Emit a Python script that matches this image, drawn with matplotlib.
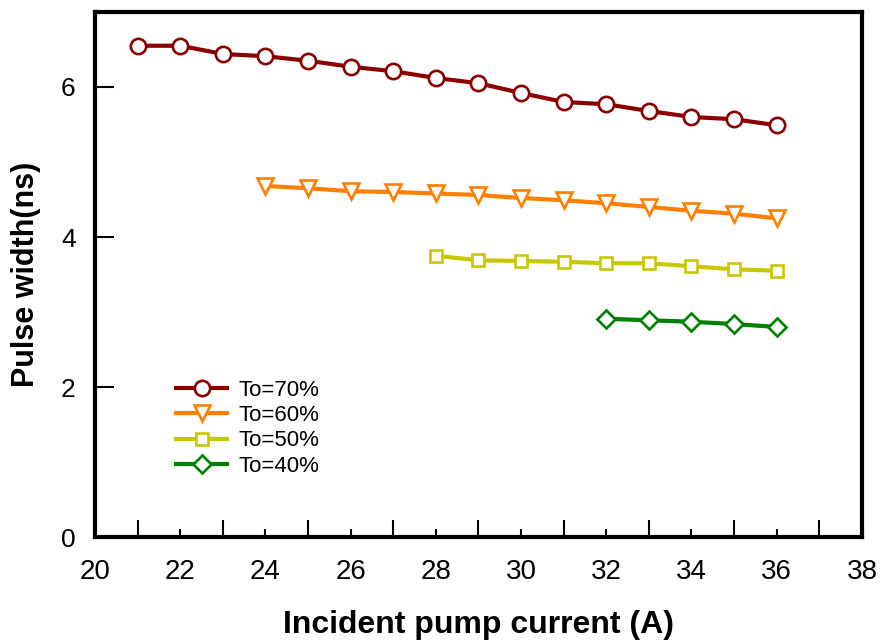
import matplotlib
matplotlib.use("Agg")
import matplotlib.pyplot as plt
from matplotlib.ticker import MultipleLocator

plt.rcParams['font.family'] = ['Liberation Sans', 'DejaVu Sans']

# data
x70 = list(range(21, 37))
y70 = [6.55, 6.55, 6.44, 6.41, 6.35, 6.27, 6.21, 6.12, 6.05, 5.92, 5.80, 5.77, 5.68, 5.60, 5.57, 5.49]
x60 = list(range(24, 37))
y60 = [4.68, 4.65, 4.61, 4.60, 4.58, 4.56, 4.52, 4.49, 4.45, 4.40, 4.35, 4.31, 4.25]
x50 = list(range(28, 37))
y50 = [3.75, 3.69, 3.68, 3.67, 3.65, 3.65, 3.61, 3.57, 3.55]
x40 = list(range(32, 37))
y40 = [2.91, 2.89, 2.87, 2.84, 2.80]

fig = plt.figure(figsize=(8.83, 6.44), dpi=100)
ax = fig.add_axes([0.1076, 0.1661, 0.8685, 0.8153])

ax.plot(x70, y70, '-o', color='#8b0000', lw=3, ms=11, mew=1.9, mfc='white', label='To=70%')
ax.plot(x60, y60, '-v', color='#ff8000', lw=3, ms=11, mew=1.9, mfc='white', label='To=60%')
ax.plot(x50, y50, '-s', color='#c8c800', lw=3, ms=9, mew=1.9, mfc='white', label='To=50%')
ax.plot(x40, y40, '-D', color='#008000', lw=3, ms=9, mew=1.9, mfc='white', label='To=40%')

ax.set_xlim(20, 38)
ax.set_ylim(0, 7)
ax.xaxis.set_major_locator(MultipleLocator(2))
ax.xaxis.set_minor_locator(MultipleLocator(1))
ax.yaxis.set_major_locator(MultipleLocator(2))
ax.tick_params(axis='x', which='major', direction='in', length=6, width=1.5, labelsize=20, pad=16)
ax.tick_params(axis='x', which='minor', direction='in', length=12, width=1.5)
ax.tick_params(axis='y', which='major', direction='in', length=14, width=1.5, labelsize=19, pad=14)
for s in ax.spines.values():
    s.set_linewidth(3)

ax.set_xlabel('Incident pump current (A)', fontsize=23, fontweight='bold', labelpad=18)
ax.set_ylabel('Pulse width(ns)', fontsize=22, fontweight='bold', labelpad=14)

ax.legend(loc='upper left', bbox_to_anchor=(0.08, 0.338), frameon=False, fontsize=16,
          handlelength=2.3, handletextpad=0.5, labelspacing=0.2)

fig.savefig('out.png', dpi=100)
